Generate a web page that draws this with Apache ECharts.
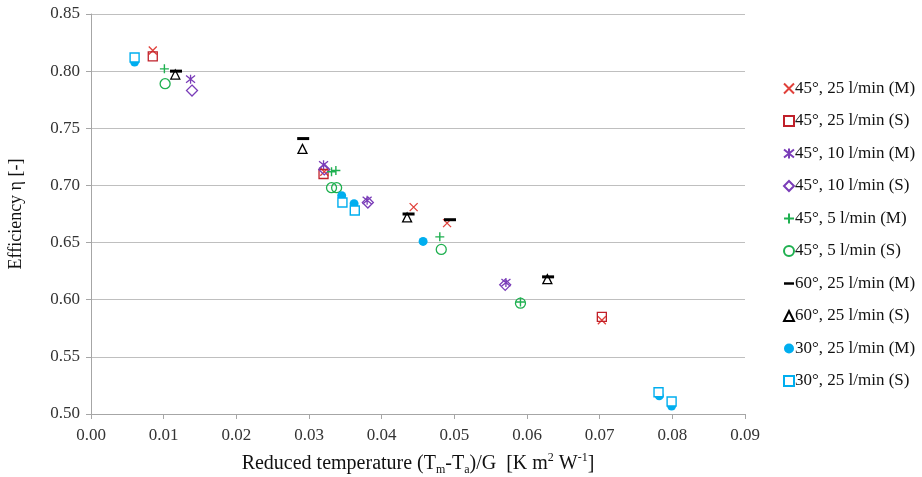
<!DOCTYPE html>
<html>
<head>
<meta charset="utf-8">
<title>Efficiency vs reduced temperature</title>
<script src="https://cdn.jsdelivr.net/npm/echarts@6/dist/echarts.min.js"></script>
<style>
  html, body { margin: 0; padding: 0; background: #fff; }
  #chart { width: 922px; height: 477px; }
</style>
</head>
<body>
<div id="chart"></div>
<script>
// Values: [reduced temperature, efficiency]
const seriesNames = [
    '45°, 25 l/min (M)', '45°, 25 l/min (S)',
    '45°, 10 l/min (M)', '45°, 10 l/min (S)',
    '45°, 5 l/min (M)', '45°, 5 l/min (S)',
    '60°, 25 l/min (M)', '60°, 25 l/min (S)',
    '30°, 25 l/min (M)', '30°, 25 l/min (S)'
];

const d45_25_M = [[0.0085, 0.818], [0.0321, 0.712], [0.0444, 0.681], [0.0490, 0.667], [0.0703, 0.582]];
const d45_25_S = [[0.0085, 0.813], [0.0320, 0.710], [0.0703, 0.585]];
const d45_10_M = [[0.0137, 0.793], [0.0320, 0.718], [0.0380, 0.687], [0.0571, 0.615]];
const d45_10_S = [[0.0139, 0.783], [0.0321, 0.714], [0.0381, 0.685], [0.0570, 0.613]];
const d45_5_M = [[0.0101, 0.802], [0.0331, 0.712], [0.0337, 0.713], [0.0480, 0.655], [0.0591, 0.598]];
const d45_5_S = [[0.0102, 0.789], [0.0331, 0.698], [0.0338, 0.698], [0.0482, 0.644], [0.0591, 0.597]];
const d60_25_M = [[0.0117, 0.800], [0.0292, 0.741], [0.0437, 0.675], [0.0494, 0.670], [0.0629, 0.620]];
const d60_25_S = [[0.0116, 0.797], [0.0291, 0.732], [0.0435, 0.672], [0.0628, 0.618]];
const d30_25_M = [[0.0060, 0.808], [0.0345, 0.691], [0.0362, 0.684], [0.0457, 0.651], [0.0782, 0.516], [0.0799, 0.507]];
const d30_25_S = [[0.0060, 0.812], [0.0346, 0.685], [0.0363, 0.678], [0.0781, 0.519], [0.0799, 0.511]];

const allData = [d45_25_M, d45_25_S, d45_10_M, d45_10_S, d45_5_M, d45_5_S, d60_25_M, d60_25_S, d30_25_M, d30_25_S];

// Marker look per series
const SYM_X = 'path://M0,0L10,10M10,0L0,10';
const SYM_STAR = 'path://M0,1L10,9M10,1L0,9M5,0L5,10';
const SYM_PLUS = 'path://M5,0L5,10M0,5L10,5';
const SYM_DASH = 'path://M0,0L12,0L12,3L0,3Z';

const markers = [
    { symbol: SYM_X, size: 8, fill: 'transparent', stroke: '#e0403a', width: 1.3 },
    { symbol: 'rect', size: 9, fill: 'transparent', stroke: '#c0202a', width: 1.3 },
    { symbol: SYM_STAR, size: 9, fill: 'transparent', stroke: '#7a3db8', width: 1.3 },
    { symbol: 'diamond', size: 11, fill: 'transparent', stroke: '#7a3db8', width: 1.3 },
    { symbol: SYM_PLUS, size: 9, fill: 'transparent', stroke: '#1fb050', width: 1.4 },
    { symbol: 'circle', size: 10, fill: 'transparent', stroke: '#1fb050', width: 1.3 },
    { symbol: 'rect', size: [12, 3], fill: '#000', stroke: '#000', width: 0 },
    { symbol: 'triangle', size: 9, fill: 'transparent', stroke: '#000', width: 1.3 },
    { symbol: 'circle', size: 9, fill: '#00aeef', stroke: '#00aeef', width: 0 },
    { symbol: 'rect', size: 9, fill: '#fff', stroke: '#00aeef', width: 1.4 }
];

const FONT = '"Liberation Serif", "Times New Roman", serif';

const chart = echarts.init(document.getElementById('chart'));

chart.setOption({
    animation: false,
    backgroundColor: '#fff',
    grid: { left: 91, right: 177, top: 14, bottom: 63, containLabel: false, outerBoundsMode: 'none' },
    legend: {
        orient: 'vertical',
        left: 778,
        top: 75,
        itemGap: 15.5,
        itemWidth: 10,
        itemHeight: 10,
        symbolKeepAspect: true,
        textStyle: { fontFamily: FONT, fontSize: 17, color: '#111', padding: [0, 0, 0, -4] },
        data: seriesNames.map((name, i) => i === 6 ? { name, icon: SYM_DASH } : name)
    },
    xAxis: {
        type: 'value',
        min: 0,
        max: 0.09,
        interval: 0.01,
        name: 'Reduced temperature (T{sub|m}-T{sub|a})/G  [K m{sup|2} W{sup|-1}]',
        nameLocation: 'middle',
        nameGap: 38,
        nameTextStyle: {
            fontFamily: FONT, fontSize: 20, color: '#111', lineHeight: 24,
            rich: {
                sub: { fontFamily: FONT, fontSize: 12, color: '#111', verticalAlign: 'bottom', lineHeight: 24 },
                sup: { fontFamily: FONT, fontSize: 12, color: '#111', verticalAlign: 'top', lineHeight: 24 }
            }
        },
        axisLine: { onZero: false, lineStyle: { color: '#a6a6a6', width: 1 } },
        axisTick: { show: true, length: 5, lineStyle: { color: '#a6a6a6' } },
        axisLabel: { fontFamily: FONT, fontSize: 17, color: '#333', margin: 13, formatter: v => v.toFixed(2) },
        splitLine: { show: false }
    },
    yAxis: {
        type: 'value',
        min: 0.5,
        max: 0.85,
        interval: 0.05,
        name: 'Efficiency η [-]',
        nameLocation: 'middle',
        nameGap: 66,
        nameTextStyle: { fontFamily: FONT, fontSize: 18, color: '#111' },
        axisLine: { show: true, lineStyle: { color: '#a6a6a6', width: 1 } },
        axisTick: { show: true, length: 5, lineStyle: { color: '#a6a6a6' } },
        axisLabel: { fontFamily: FONT, fontSize: 17, color: '#333', margin: 11, formatter: v => v.toFixed(2) },
        splitLine: { show: true, lineStyle: { color: '#bfbfbf', width: 1 } }
    },
    series: seriesNames.map((name, i) => ({
        name,
        type: 'scatter',
        data: allData[i],
        symbol: markers[i].symbol,
        symbolSize: markers[i].size,
        itemStyle: {
            color: markers[i].fill,
            borderColor: markers[i].stroke,
            borderWidth: markers[i].width,
            opacity: 1
        },
        emphasis: { disabled: true }
    }))
});

window.addEventListener('resize', () => chart.resize());
</script>
</body>
</html>
